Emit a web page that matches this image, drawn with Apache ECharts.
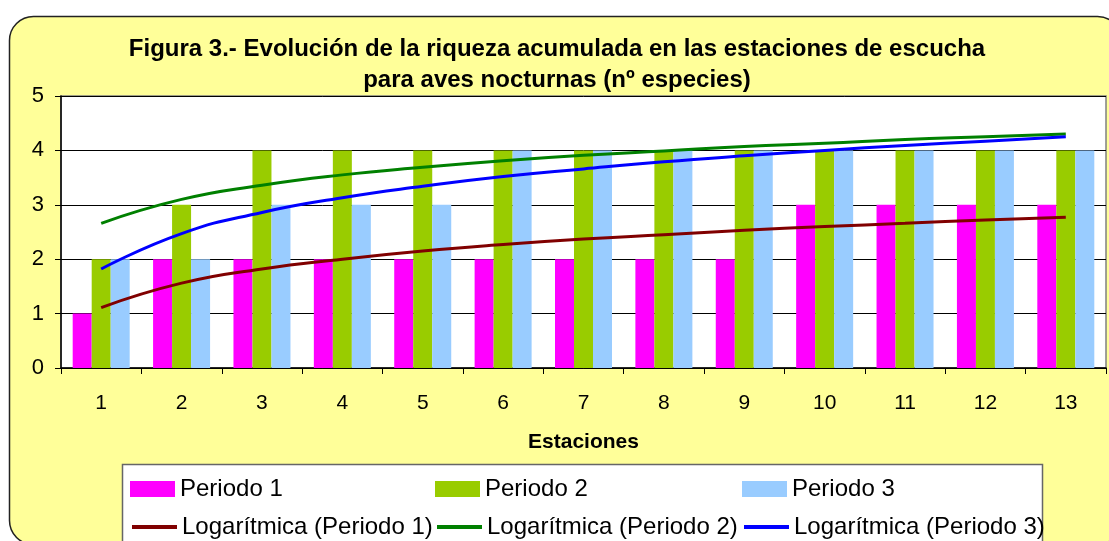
<!DOCTYPE html>
<html>
<head>
<meta charset="utf-8">
<script src="https://cdn.jsdelivr.net/npm/echarts@6/dist/echarts.min.js"></script>
<style>
  html, body { margin: 0; padding: 0; background: #fff; }
  #chart { width: 1109px; height: 541px; }
</style>
</head>
<body>
<div id="chart"></div>
<script>
// estaciones de escucha
var estaciones = ['1', '2', '3', '4', '5', '6', '7', '8', '9', '10', '11', '12', '13']

// riqueza acumulada (nº especies) por periodo
var periodo1 = [1, 2, 2, 2, 2, 2, 2, 2, 2, 3, 3, 3, 3]
var periodo2 = [2, 3, 4, 4, 4, 4, 4, 4, 4, 4, 4, 4, 4]
var periodo3 = [2, 2, 3, 3, 3, 4, 4, 4, 4, 4, 4, 4, 4]

var log1 = [1.11, 1.56, 1.82, 2.00, 2.15, 2.27, 2.37, 2.45, 2.53, 2.60, 2.66, 2.72, 2.77]
var log2 = [2.66, 3.10, 3.36, 3.55, 3.69, 3.81, 3.91, 3.99, 4.07, 4.13, 4.20, 4.25, 4.30]
var log3 = [1.82, 2.47, 2.86, 3.13, 3.34, 3.52, 3.66, 3.79, 3.90, 4.00, 4.09, 4.17, 4.25]

var yTicks = [0, 1, 2, 3, 4, 5]

var font = 'Liberation Sans, Arial, sans-serif'
var chart = echarts.init(document.getElementById('chart'))

function leyenda (name, left, top, esBarra) {
  var item = { name: name }
  if (esBarra) {
    item.icon = 'rect'
  } else {
    item.itemStyle = { opacity: 0 }
    item.lineStyle = { width: 4 }
  }
  return {
    data: [item],
    left: left,
    top: top,
    padding: 0,
    itemWidth: 45,
    itemHeight: 16,
    selectedMode: false,
    textStyle: { fontFamily: font, fontSize: 24, color: '#000', lineHeight: 16 }
  }
}

var option = {
  animation: false,
  backgroundColor: '#fff',
  textStyle: { fontFamily: font },
  title: {
    text: 'Figura 3.- Evolución de la riqueza acumulada en las estaciones de escucha\npara aves nocturnas (nº especies)',
    left: 557,
    top: 34,
    padding: 0,
    textAlign: 'center',
    textStyle: { fontFamily: font, fontSize: 24, fontWeight: 'bold', color: '#000', lineHeight: 31 }
  },
  graphic: [
    {
      type: 'rect',
      z: -10,
      shape: { x: 9.5, y: 16.5, width: 1112, height: 528, r: 24 },
      style: { fill: '#FFFF99', stroke: '#222', lineWidth: 1.5 }
    },
    {
      type: 'rect',
      z: 1,
      shape: { x: 122.5, y: 464.5, width: 920, height: 100 },
      style: { fill: '#fff', stroke: '#666', lineWidth: 1.5 }
    }
  ],
  legend: [
    leyenda('Periodo 1', 130, 477, true),
    leyenda('Periodo 2', 435, 477, true),
    leyenda('Periodo 3', 742, 477, true),
    leyenda('Logarítmica (Periodo 1)', 130, 515, false),
    leyenda('Logarítmica (Periodo 2)', 435, 515, false),
    leyenda('Logarítmica (Periodo 3)', 742, 515, false)
  ],
  grid: {
    left: 61,
    right: 3,
    top: 96,
    bottom: 173,
    show: true,
    backgroundColor: '#fff',
    borderColor: '#808080',
    borderWidth: 1.5
  },
  xAxis: {
    type: 'category',
    data: estaciones,
    boundaryGap: true,
    name: 'Estaciones',
    nameLocation: 'middle',
    nameGap: 64,
    nameTextStyle: { fontFamily: font, fontSize: 21, fontWeight: 'bold', color: '#000' },
    axisLine: { lineStyle: { color: '#000', width: 1.5 } },
    axisTick: { show: true, length: 6, lineStyle: { color: '#000' } },
    axisLabel: { fontFamily: font, fontSize: 21, color: '#000', margin: 25 }
  },
  yAxis: {
    type: 'value',
    min: yTicks[0],
    max: yTicks[yTicks.length - 1],
    interval: 1,
    axisLine: { show: true, lineStyle: { color: '#000', width: 1.5 } },
    axisTick: { show: true, length: 6, lineStyle: { color: '#000' } },
    axisLabel: { fontFamily: font, fontSize: 22, color: '#000', margin: 17 },
    splitLine: { lineStyle: { color: '#000', width: 1 } }
  },
  series: [
    { name: 'Periodo 1', type: 'bar', data: periodo1, barWidth: 19, barGap: '0%', itemStyle: { color: '#FF00FF' } },
    { name: 'Periodo 2', type: 'bar', data: periodo2, barWidth: 19, barGap: '0%', itemStyle: { color: '#99CC00' } },
    { name: 'Periodo 3', type: 'bar', data: periodo3, barWidth: 19, barGap: '0%', itemStyle: { color: '#99CCFF' } },
    { name: 'Logarítmica (Periodo 1)', type: 'line', data: log1, smooth: true, symbol: 'none', z: 5, lineStyle: { color: '#800000', width: 3 }, itemStyle: { color: '#800000' } },
    { name: 'Logarítmica (Periodo 2)', type: 'line', data: log2, smooth: true, symbol: 'none', z: 5, lineStyle: { color: '#008000', width: 3 }, itemStyle: { color: '#008000' } },
    { name: 'Logarítmica (Periodo 3)', type: 'line', data: log3, smooth: true, symbol: 'none', z: 5, lineStyle: { color: '#0000FF', width: 3 }, itemStyle: { color: '#0000FF' } }
  ]
}

chart.setOption(option)
window.addEventListener('resize', () => {
  chart.resize()
})
</script>
</body>
</html>
